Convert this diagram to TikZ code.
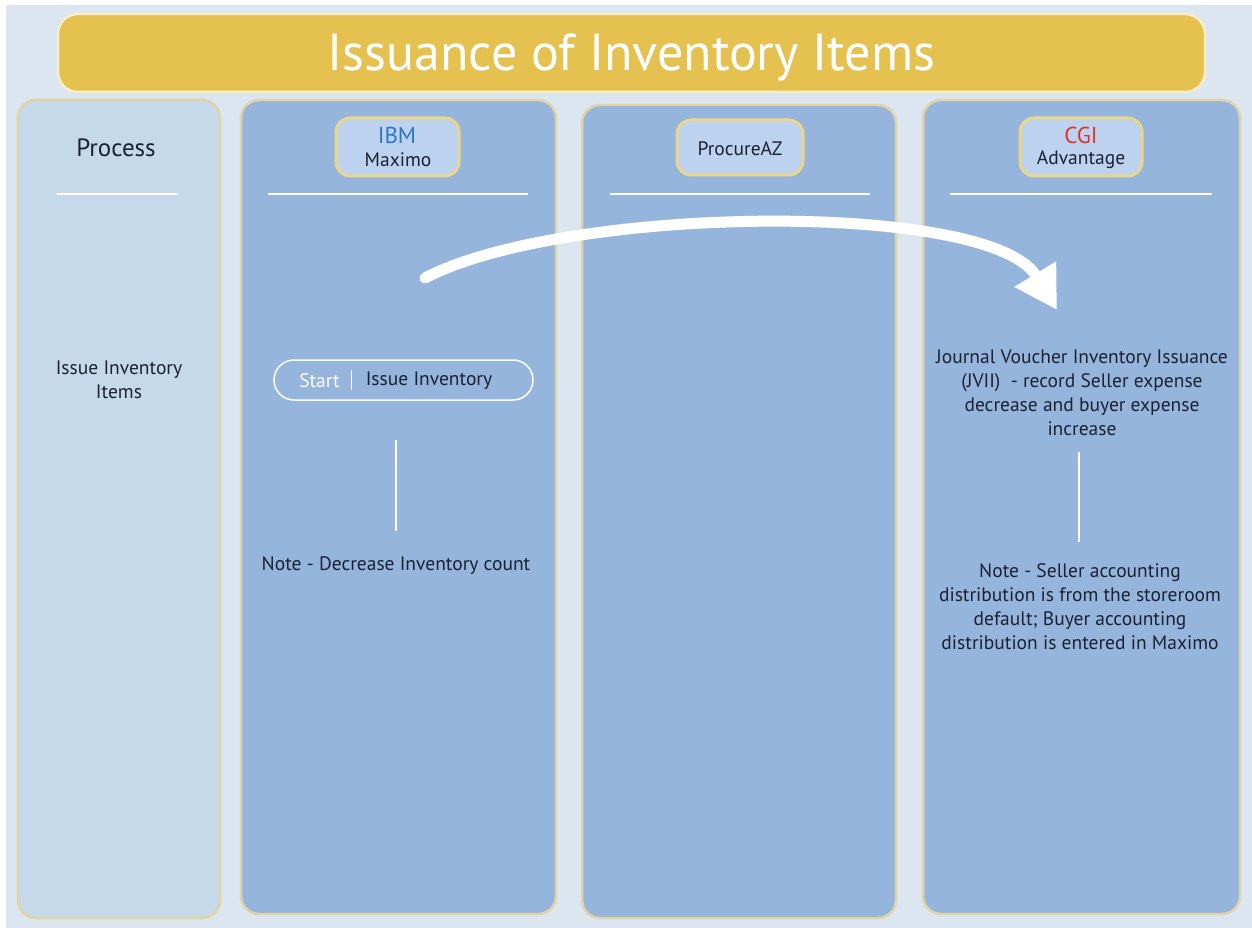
\documentclass[tikz,border=0pt]{standalone}
\usepackage{fontspec}
\setmainfont{PT Sans}
\usetikzlibrary{arrows.meta}
\definecolor{bgblue}{HTML}{DCE6F1}
\definecolor{gold}{HTML}{E5C24F}
\definecolor{colblue}{HTML}{96B5DD}
\definecolor{procblue}{HTML}{C6D9EB}
\definecolor{tan}{HTML}{E2D3A6}
\definecolor{pillfill}{HTML}{BCD2EE}
\definecolor{pillrim}{HTML}{EAD68A}
\definecolor{ink}{HTML}{1A2233}
\definecolor{ibmblue}{HTML}{2E78BE}
\definecolor{cgired}{HTML}{E2322E}
\tikzset{
  lane/.style={draw=tan, line width=2.5pt, rounded corners=18pt, fill=colblue},
  hdrpill/.style={draw=pillrim, line width=3pt, rounded corners=14pt, fill=pillfill},
  rule/.style={draw=white, line width=1.2pt},
  body/.style={text=ink, font=\fontsize{19.5}{24}\selectfont, align=center},
  hsub/.style={text=ink, font=\fontsize{19.5}{22}\selectfont},
}
\begin{document}
\begin{tikzpicture}[x=1pt,y=-1pt]
\useasboundingbox (0,0) rectangle (1252,928);
\fill[white] (0,0) rectangle (1252,928);
\fill[bgblue] (6,5) rectangle (1252,928);
% title
\node[draw=white!70!gold, line width=2.5pt, fill=gold, rounded corners=20pt,
      minimum width=1147pt, minimum height=78pt, inner sep=0pt] (titlebox) at (631.5,53) {};
\node[text=white, font=\fontsize{52}{54}\selectfont] (title) at (631.5,57) {Issuance of Inventory Items};
% lanes
\draw[lane, fill=procblue] (18,100) rectangle (220,918);
\draw[lane] (241,100) rectangle (556,914);
\draw[lane] (582,105) rectangle (896,918);
\draw[lane] (923,100) rectangle (1240,914);
% headers
\node[text=ink, font=\fontsize{25}{27}\selectfont] (hproc) at (116,148) {Process};
\node[hdrpill, minimum width=123pt, minimum height=58pt, inner sep=0pt] (hmax) at (397.5,147) {};
\node[text=ibmblue, font=\fontsize{23}{25}\selectfont] (ibm) at (397,135) {IBM};
\node[hsub] (maximo) at (398,160) {Maximo};
\node[hdrpill, minimum width=126pt, minimum height=55pt, inner sep=0pt] (hpaz) at (740,147.5) {};
\node[hsub] (paz) at (740,149) {ProcureAZ};
\node[hdrpill, minimum width=122pt, minimum height=58pt, inner sep=0pt] (hcgi) at (1081,147) {};
\node[text=cgired, font=\fontsize{23}{25}\selectfont] (cgi) at (1081,135) {CGI};
\node[hsub] (adv) at (1081,160) {Advantage};
\draw[rule] (57,194) -- (178,194);
\draw[rule] (268,194) -- (528,194);
\draw[rule] (610,194) -- (870,194);
\draw[rule] (950,194) -- (1212,194);
% process column
\node[body] (procitem) at (119,380) {Issue Inventory\\Items};
% maximo column
\node[draw=white, line width=1.5pt, rounded corners=20pt, minimum width=259pt, minimum height=40pt,
      inner sep=0pt] (start) at (403.5,380) {};
\node[text=white, font=\fontsize{19.5}{22}\selectfont] (startlbl) at (319.5,381) {Start};
\draw[white, line width=1pt] (351,370) -- (351,390);
\node[text=ink, font=\fontsize{19.5}{22}\selectfont] (issue) at (429,381) {Issue Inventory};
\coordinate (m1) at (396,440);
\coordinate (m2) at (396,531);
\draw[rule] (m1) -- (m2);
\node[body] (note1) at (396,566) {Note - Decrease Inventory count};
% cgi column
\node[body] (jvii) at (1082,393) {Journal Voucher Inventory Issuance\\(JVII) \ - record Seller expense\\decrease and buyer expense\\increase};
\coordinate (c1) at (1079,452);
\coordinate (c2) at (1079,542);
\draw[rule] (c1) -- (c2);
\node[body] (note2) at (1080,607) {Note - Seller accounting\\distribution is from the storeroom\\default; Buyer accounting\\distribution is entered in Maximo};
% arrow
\coordinate (arrS) at (425,278);
\coordinate (arrE) at (1057,310);
\draw[white, line width=11pt, line cap=round, -{Triangle[length=42pt,width=46pt]}]
  (arrS) .. controls (565,205) and (990,200) .. (arrE);
\end{tikzpicture}
\end{document}
